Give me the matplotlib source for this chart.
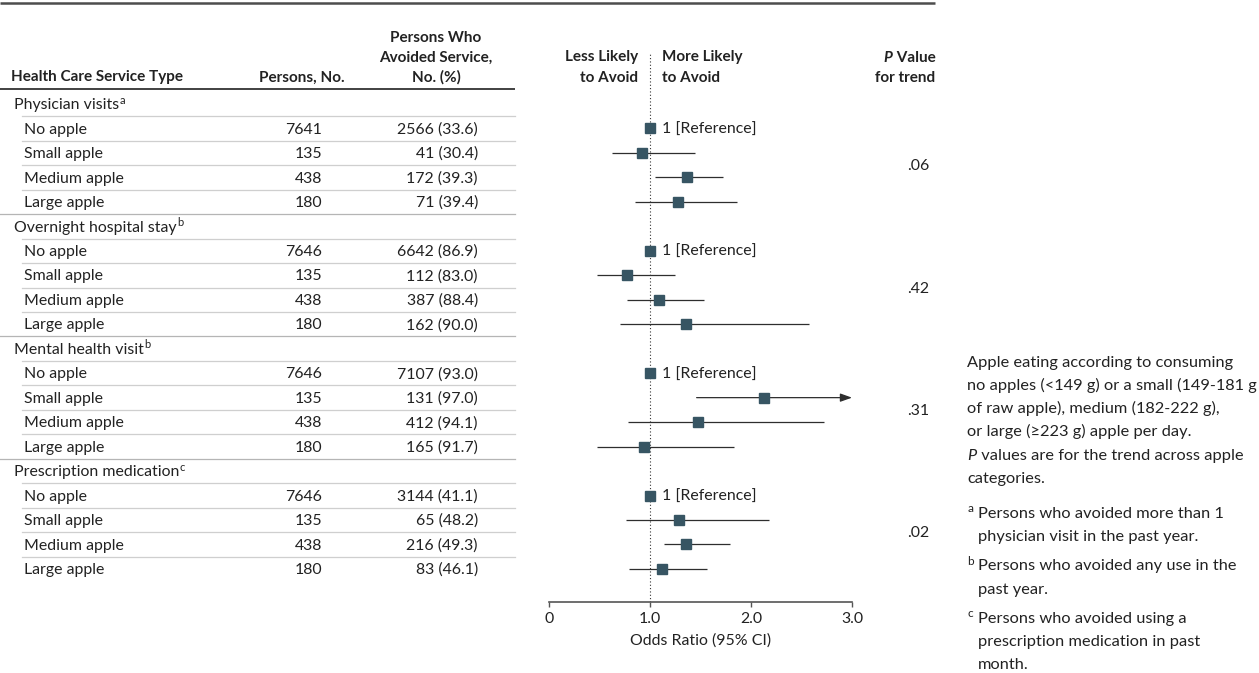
import matplotlib
matplotlib.use("Agg")
import matplotlib.pyplot as plt

plt.rcParams['font.family'] = ['Lato', 'DejaVu Sans']

# ---------------- data ----------------
groups = ["Physician visits", "Overnight hospital stay", "Mental health visit", "Prescription medication"]
group_notes = ["a", "b", "b", "c"]
levels = ["No apple", "Small apple", "Medium apple", "Large apple"]
persons = [[7641, 135, 438, 180], [7646, 135, 438, 180], [7646, 135, 438, 180], [7646, 135, 438, 180]]
avoided = [[2566, 41, 172, 71], [6642, 112, 387, 162], [7107, 131, 412, 165], [3144, 65, 216, 83]]
avoided_pct = [[33.6, 30.4, 39.3, 39.4], [86.9, 83.0, 88.4, 90.0], [93.0, 97.0, 94.1, 91.7], [41.1, 48.2, 49.3, 46.1]]
odds_ratio = [[1.0, 0.92, 1.36, 1.28], [1.0, 0.77, 1.09, 1.35], [1.0, 2.13, 1.47, 0.94], [1.0, 1.29, 1.35, 1.12]]
ci_low = [[None, 0.62, 1.05, 0.85], [None, 0.475, 0.77, 0.70], [None, 1.46, 0.78, 0.475], [None, 0.76, 1.14, 0.79]]
ci_high = [[None, 1.44, 1.72, 1.86], [None, 1.25, 1.53, 2.57], [None, 3.0, 2.72, 1.83], [None, 2.18, 1.79, 1.56]]
ci_truncated = [[False, False, False, False], [False, False, False, False], [False, True, False, False], [False, False, False, False]]
p_trend = [".06", ".42", ".31", ".02"]
x_ticks = [0, 1.0, 2.0, 3.0]
x_tick_labels = ["0", "1.0", "2.0", "3.0"]

footnote_lines = [
    "Apple eating according to consuming",
    "no apples (<149 g) or a small (149-181 g",
    "of raw apple), medium (182-222 g),",
    "or large (\u2265223 g) apple per day.",
]
footnote_p_line = " values are for the trend across apple"
footnote_p_line2 = "categories."
notes = [("a", ["Persons who avoided more than 1", "physician visit in the past year."]),
         ("b", ["Persons who avoided any use in the", "past year."]),
         ("c", ["Persons who avoided using a", "prescription medication in past", "month."])]

# ---------------- layout ----------------
W, H = 1259, 673
fig = plt.figure(figsize=(W / 100, H / 100), dpi=100)
tab = fig.add_axes([0, 0, 1, 1])
tab.set_xlim(0, W)
tab.set_ylim(H, 0)
tab.axis("off")

TXT = "#222222"
FS = 11.4
FSB = 11
ROW0, ROW_H = 104.0, 24.47
BASE_OFF = 5.2


def row_y(i):
    return ROW0 + ROW_H * i


renderer = fig.canvas.get_renderer()


def sup_after(t, letter, fs=8, dy=-5.5):
    bb = t.get_window_extent(renderer=renderer)
    x, y = t.get_position()
    tab.text(bb.x1 + 0.5, y + dy, letter, fontsize=fs, color=TXT, ha="left", va="baseline")


# top rule
tab.plot([0, 935], [3, 3], color="#4d4d4d", lw=1.8, solid_capstyle="butt")

# headers
tab.text(11, 81.5, "Health Care Service Type", fontsize=FSB, fontweight="bold", color=TXT, va="baseline")
tab.text(345, 81.5, "Persons, No.", fontsize=FSB, fontweight="bold", color=TXT, ha="right", va="baseline")
for j, s in enumerate(["Persons Who", "Avoided Service,", "No. (%)"]):
    tab.text(436, 42 + 20 * j, s, fontsize=FSB, fontweight="bold", color=TXT, ha="center", va="baseline")
for j, s in enumerate(["Less Likely", "to Avoid"]):
    tab.text(638, 61.5 + 20 * j, s, fontsize=FSB, fontweight="bold", color=TXT, ha="right", va="baseline")
for j, s in enumerate(["More Likely", "to Avoid"]):
    tab.text(662, 61.5 + 20 * j, s, fontsize=FSB, fontweight="bold", color=TXT, ha="left", va="baseline")
tv = tab.text(935.5, 61.5, " Value", fontsize=FSB, fontweight="bold", color=TXT, ha="right", va="baseline")
bb = tv.get_window_extent(renderer=renderer)
tab.text(bb.x0, 61.5, "P", fontsize=FSB, fontweight="bold", style="italic", color=TXT, ha="right", va="baseline")
tab.text(935.5, 81.5, "for trend", fontsize=FSB, fontweight="bold", color=TXT, ha="right", va="baseline")

# header rule
tab.plot([0, 515], [88.5, 88.5], color="#333333", lw=1.3, solid_capstyle="butt")

# table body
n_rows = len(groups) * (len(levels) + 1)
r = 0
for g, gname in enumerate(groups):
    t = tab.text(14, row_y(r) + BASE_OFF, gname, fontsize=FS, color=TXT, va="baseline")
    sup_after(t, group_notes[g])
    tab.plot([22, 515], [row_y(r) + ROW_H / 2] * 2, color="#cfcfcf", lw=0.9)
    p_row = r + 1 + (len(levels) - 1) / 2
    tab.text(929, row_y(p_row) + BASE_OFF, p_trend[g], fontsize=FS, color=TXT, ha="right", va="baseline")
    r += 1
    for k, lv in enumerate(levels):
        y = row_y(r) + BASE_OFF
        tab.text(24, y, lv, fontsize=FS, color=TXT, va="baseline")
        tab.text(322, y, f"{persons[g][k]}", fontsize=FS, color=TXT, ha="right", va="baseline")
        tab.text(478, y, f"{avoided[g][k]} ({avoided_pct[g][k]:.1f})", fontsize=FS, color=TXT, ha="right", va="baseline")
        if r < n_rows - 1:
            if k == len(levels) - 1:
                tab.plot([0, 515], [row_y(r) + ROW_H / 2] * 2, color="#b5b5b5", lw=0.9)
            else:
                tab.plot([22, 515], [row_y(r) + ROW_H / 2] * 2, color="#cfcfcf", lw=0.9)
        r += 1

# footnotes
FX = 967.5
FFS = 11.75
fy = 366.5
LS = 23.3
for s in footnote_lines:
    tab.text(FX, fy, s, fontsize=FFS, color=TXT, va="baseline")
    fy += LS
tp = tab.text(FX, fy, "P", fontsize=FFS, style="italic", color=TXT, va="baseline")
bb = tp.get_window_extent(renderer=renderer)
tab.text(bb.x1, fy, footnote_p_line, fontsize=FFS, color=TXT, va="baseline")
fy += LS
tab.text(FX, fy, footnote_p_line2, fontsize=FFS, color=TXT, va="baseline")
fy += LS + 11.4
for letter, lines in notes:
    tab.text(FX, fy - 5.5, letter, fontsize=8.5, color=TXT, va="baseline")
    for s in lines:
        tab.text(FX + 10.5, fy, s, fontsize=FFS, color=TXT, va="baseline")
        fy += LS
    fy += 6.0

# ---------------- forest plot ----------------
AX_L, AX_R = 549.3, 852.0
AX_TOP, AX_BOT = 53.0, 601.7
fax = fig.add_axes([AX_L / W, 1 - AX_BOT / H, (AX_R - AX_L) / W, (AX_BOT - AX_TOP) / H])
fax.patch.set_alpha(0)
fax.set_xlim(0, 3.0)
fax.set_ylim((AX_BOT - ROW0) / ROW_H, (AX_TOP - ROW0) / ROW_H)
for sp in ["top", "left", "right"]:
    fax.spines[sp].set_visible(False)
fax.spines["bottom"].set_color("#555555")
fax.spines["bottom"].set_linewidth(1.2)
fax.set_yticks([])
fax.set_xticks(x_ticks)
fax.set_xticklabels(x_tick_labels)
fax.tick_params(axis="x", direction="out", length=3.5, width=1.0, color="#555555",
                labelsize=FS, labelcolor=TXT, pad=4)
fax.set_xlabel("Odds Ratio (95% CI)", fontsize=FS, color=TXT, labelpad=5)
fax.axvline(1.0, color="#333333", lw=0.8, ls=(0, (1, 2)), zorder=1)

MARK = "#375563"
CI_C = "#2e2e2e"
r = 0
for g in range(len(groups)):
    r += 1
    for k in range(len(levels)):
        est = odds_ratio[g][k]
        lo, hi = ci_low[g][k], ci_high[g][k]
        if lo is not None:
            if ci_truncated[g][k]:
                fax.annotate("", xy=(hi, r), xytext=(lo, r),
                             arrowprops=dict(arrowstyle="-|>,head_length=0.7,head_width=0.25",
                                             color=CI_C, lw=0.9, shrinkA=0, shrinkB=0), zorder=2)
            else:
                fax.plot([lo, hi], [r, r], color=CI_C, lw=0.9, solid_capstyle="butt", zorder=2)
        fax.plot([est], [r], marker="s", ms=6.6, color=MARK, mec=MARK, ls="none", zorder=3)
        if lo is None:
            fax.annotate("1 [Reference]", xy=(est, r), xytext=(8.3, 0), textcoords="offset points",
                         fontsize=FS, color=TXT, ha="left", va="center_baseline")
        r += 1

fig.savefig("out.png", dpi=100)
